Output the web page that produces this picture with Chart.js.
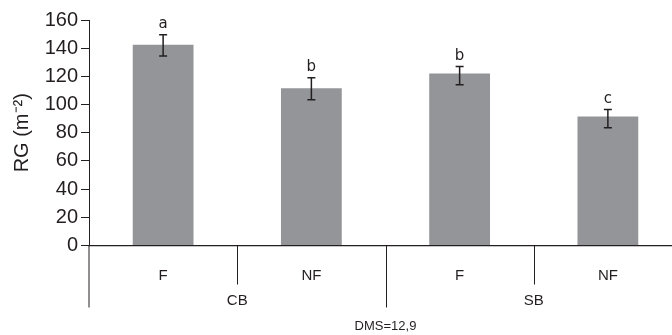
<!DOCTYPE html>
<html>
<head>
<meta charset="utf-8">
<script src="https://cdn.jsdelivr.net/npm/chart.js@4/dist/chart.umd.min.js"></script>
<style>
  html, body { margin: 0; padding: 0; background: #fff; overflow: hidden; }
  #wrap { width: 682px; height: 335px; }
</style>
</head>
<body>
<div id="wrap"><canvas id="chart"></canvas></div>
<script>
// values
const categories = ['F', 'NF', 'F', 'NF'];
const groups = ['CB', 'SB'];
const rgValues = [142.5, 111.5, 122, 91.5];
const errLow = [134.5, 103.5, 114, 83.5];
const errHigh = [149.5, 119, 127, 96.5];
const letters = ['a', 'b', 'b', 'c'];
const yTicks = [0, 20, 40, 60, 80, 100, 120, 140, 160];
const note = 'DMS=12,9';

const ink = '#231f20';
const font = '"Liberation Sans", Arial, sans-serif';

const annotations = {
  id: 'annotations',
  afterDatasetsDraw(chart) {
    const ctx = chart.ctx;
    const x = chart.scales.x;
    const y = chart.scales.y;
    const area = chart.chartArea;
    ctx.save();

    // error bars + letters
    ctx.strokeStyle = ink;
    ctx.lineWidth = 1.5;
    rgValues.forEach((v, i) => {
      const cx = x.getPixelForValue(i);
      const top = y.getPixelForValue(errHigh[i]);
      const bot = y.getPixelForValue(errLow[i]);
      ctx.beginPath();
      ctx.moveTo(cx, top); ctx.lineTo(cx, bot);
      ctx.moveTo(cx - 4, top); ctx.lineTo(cx + 4, top);
      ctx.moveTo(cx - 4, bot); ctx.lineTo(cx + 4, bot);
      ctx.stroke();

      ctx.fillStyle = ink;
      ctx.font = '15px "DejaVu Sans", sans-serif';
      ctx.textAlign = 'center';
      ctx.textBaseline = 'bottom';
      ctx.fillText(letters[i], cx, top - 3);
    });

    // separators below the axis
    ctx.lineWidth = 1;
    const bottom = area.bottom;
    ctx.beginPath();
    ctx.moveTo(area.left, bottom); ctx.lineTo(area.left, bottom + 62);
    for (let i = 0; i < categories.length - 1; i++) {
      const sx = (x.getPixelForValue(i) + x.getPixelForValue(i + 1)) / 2;
      const len = i % 2 === 1 ? 62 : 39;
      ctx.moveTo(Math.round(sx) + 0.5, bottom); ctx.lineTo(Math.round(sx) + 0.5, bottom + len);
    }
    ctx.stroke();

    // group labels
    ctx.fillStyle = ink;
    ctx.font = '15px ' + font;
    ctx.textAlign = 'center';
    ctx.textBaseline = 'middle';
    groups.forEach((g, gi) => {
      const gx = (x.getPixelForValue(gi * 2) + x.getPixelForValue(gi * 2 + 1)) / 2;
      ctx.fillText(g, gx, bottom + 55);
    });
    const mid = (x.getPixelForValue(1) + x.getPixelForValue(2)) / 2;
    ctx.font = '13px ' + font;
    ctx.fillText(note, mid, bottom + 81);

    ctx.restore();
  }
};

new Chart(document.getElementById('chart'), {
  type: 'bar',
  data: {
    labels: categories,
    datasets: [{
      data: rgValues,
      backgroundColor: '#939598',
      borderWidth: 0,
      categoryPercentage: 1,
      barPercentage: 0.41
    }]
  },
  options: {
    responsive: true,
    maintainAspectRatio: false,
    animation: false,
    layout: { padding: { top: 20, right: 0, left: 0, bottom: 0 } },
    plugins: {
      legend: { display: false },
      tooltip: { enabled: false }
    },
    scales: {
      x: {
        afterFit(scale) { scale.height = 89.5; },
        grid: { display: false },
        border: { display: true, color: ink, width: 1.2 },
        ticks: {
          color: ink,
          padding: 13,
          font: { family: font, size: 15 }
        }
      },
      y: {
        min: 0,
        max: 160,
        afterFit(scale) { scale.width = 89; },
        afterBuildTicks(scale) { scale.ticks = yTicks.map(v => ({ value: v })); },
        grid: { drawOnChartArea: false, drawTicks: true, tickLength: 8, color: ink },
        border: { display: true, color: ink, width: 1 },
        ticks: {
          color: ink,
          padding: 3,
          font: { family: font, size: 20 }
        },
        title: {
          display: true,
          text: 'RG (m⁻²)',
          color: ink,
          padding: { top: 10, bottom: 0 },
          font: { family: font, size: 20 }
        }
      }
    }
  },
  plugins: [annotations]
});
</script>
</body>
</html>
